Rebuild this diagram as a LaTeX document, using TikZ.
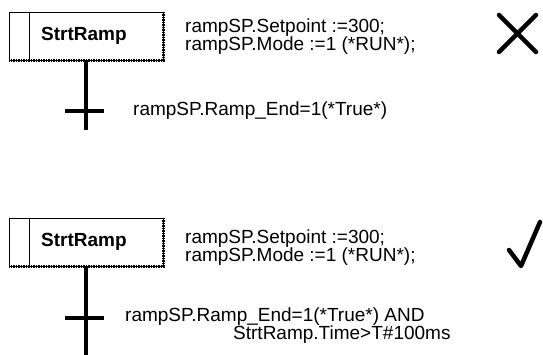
\documentclass[tikz,border=0pt]{standalone}
\usepackage{fontspec}
\setmainfont{Liberation Sans}
\begin{document}
\begin{tikzpicture}[x=1pt,y=-1pt,
  stepbox/.style={draw, line width=0.9pt, minimum width=154pt, minimum height=48pt, inner sep=0pt},
  steplabel/.style={inner sep=0pt, font=\fontsize{19}{19}\selectfont\bfseries},
  shadowline/.style={line width=2.8pt, dash pattern=on 1.6pt off 0.9pt},
  flowline/.style={line width=3.6pt},
  txt/.style={anchor=west, inner sep=0pt, font=\fontsize{19}{18}\selectfont, align=left},
  markline/.style={line width=4.5pt, line cap=round, line join=round}]
\useasboundingbox (0,0) rectangle (543,355);
% ---------- top (wrong) ----------
\node[stepbox] (s1) at (86,36) {};
\node[steplabel] (l1) at (84,36) {StrtRamp};
\draw[line width=0.9pt] ([xshift=21pt]s1.north west) -- ([xshift=21pt]s1.south west);
\draw[shadowline] (s1.north east) -- (s1.south east) -- (s1.south west);
\coordinate (e1) at (86,130);
\draw[flowline] (s1.south) -- (e1);
\coordinate (t1l) at (65,111);
\coordinate (t1r) at (104,111);
\draw[flowline] (t1l) -- (t1r);
\node[txt] (a1) at (185,37) {rampSP.Setpoint :=300;\\rampSP.Mode :=1 (*RUN*);};
\node[txt] (c1) at (133,111) {rampSP.Ramp\_End=1(*True*)};
\coordinate (x1) at (499,15);
\coordinate (x2) at (536,52);
\coordinate (x3) at (499,52);
\coordinate (x4) at (536,15);
\draw[markline] (x1) -- (x2) (x3) -- (x4);
% ---------- bottom (right) ----------
\node[stepbox] (s2) at (86,242) {};
\node[steplabel] (l2) at (84,242) {StrtRamp};
\draw[line width=0.9pt] ([xshift=21pt]s2.north west) -- ([xshift=21pt]s2.south west);
\draw[shadowline] (s2.north east) -- (s2.south east) -- (s2.south west);
\coordinate (e2) at (86,355);
\draw[flowline] (s2.south) -- (e2);
\coordinate (t2l) at (65,318);
\coordinate (t2r) at (104,318);
\draw[flowline] (t2l) -- (t2r);
\node[txt] (a2) at (185,248) {rampSP.Setpoint :=300;\\rampSP.Mode :=1 (*RUN*);};
\node[txt] (c2) at (125,326) {rampSP.Ramp\_End=1(*True*) AND\\\hspace*{108pt}StrtRamp.Time>T\#100ms};
\coordinate (k1) at (509,250);
\coordinate (k2) at (521,266);
\coordinate (k3) at (540,222);
\draw[markline] (k1) -- (k2) -- (k3);
\end{tikzpicture}
\end{document}
